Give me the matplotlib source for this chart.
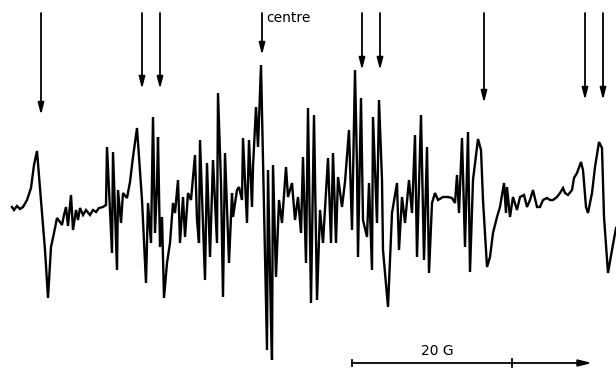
import matplotlib
matplotlib.use('Agg')
import matplotlib.pyplot as plt

# EPR trace (field in arbitrary units, intensity in arbitrary units)
field = [12, 14, 17, 20, 23, 27, 31, 34, 37, 41, 45, 48, 51, 54, 57, 60, 62, 64, 66, 68,
         71, 73, 76, 78, 80, 83, 86, 90, 93, 96, 99, 103, 106, 107, 112, 113, 117, 118, 121, 123,
         127, 130, 133, 137, 142, 146, 148, 151, 153, 155, 157, 158, 160, 162, 164, 167, 170, 173, 175, 178,
         180, 183, 185, 188, 191, 195, 197, 199, 200, 205, 207, 210, 213, 217, 218, 221, 223, 225, 229, 232,
         233, 237, 239, 242, 243, 247, 249, 252, 253, 256, 258, 261, 263, 265, 267, 268, 271, 272, 273, 276,
         279, 282, 286, 288, 292, 295, 298, 301, 303, 306, 308, 311, 314, 317, 320, 323, 328, 331, 333, 336,
         338, 342, 345, 349, 352, 355, 357, 358, 361, 363, 367, 369, 372, 373, 377, 379, 382, 383, 388, 392,
         397, 399, 402, 405, 409, 412, 415, 417, 421, 424, 427, 429, 432, 435, 438, 443, 448, 452, 455, 457,
         459, 462, 465, 468, 470, 473, 478, 481, 483, 487, 490, 493, 497, 500, 504, 506, 507, 510, 513, 517,
         520, 524, 527, 530, 533, 537, 540, 543, 547, 550, 553, 557, 560, 563, 565, 568, 572, 574, 577, 581,
         583, 586, 588, 592, 595, 599, 602, 604, 608, 612, 616]
intensity = [3, 0, 4, 1, 3, 10, 22, 45, 59, 10, -40, -88, -37, -23, -8, -12, -15, -5, 3, -16,
             15, -20, 0, -10, 2, -5, 0, -5, 0, -2, 2, 3, 5, 63, -43, 58, -60, 20, -13, 17,
             12, 28, 53, 82, 10, -73, 7, -33, 93, -23, 25, 73, -37, -7, -88, -53, -33, 7, -3, 30,
             -33, 13, -27, 17, 10, 55, -10, -33, 70, -70, 47, -47, 50, -33, 117, 27, -87, 57, -53, 17,
             -7, 20, 23, 10, 72, -13, 70, 3, 43, 103, 63, 145, 50, -47, -140, 40, -113, -150, 45, -67,
             10, -13, 43, 13, 27, -10, 13, -23, 53, -53, 102, -93, 95, -90, 0, -33, 52, -33, 57, -33,
             33, 3, 28, 80, -20, 140, 43, -47, 112, -10, -27, 27, -60, 93, -13, 110, 30, -40, -97, -3,
             27, -40, 13, -13, 30, -3, 75, -47, 95, -50, 63, -63, 7, 17, 10, 13, 13, 12, 7, 35,
             -3, 72, -37, 78, -62, 30, 71, 60, 10, -57, -47, -23, -7, 3, 27, -3, 23, -7, 13, 0,
             13, 15, 3, 10, 20, 3, 3, 10, 12, 10, 10, 13, 17, 22, 17, 15, 20, 32, 37, 48,
             40, 3, -3, 17, 43, 68, 62, -7, -63, -40, -18]

arrow_x = [41, 142, 160, 262, 362, 380, 484, 585, 603]
arrow_tip = [95, 121, 121, 155, 140, 140, 107, 110, 110]
arrow_top = 197

fig = plt.figure(figsize=(6.16, 3.68), dpi=100)
ax = fig.add_axes([0, 0, 1, 1])

ax.plot(field, intensity, color='black', lw=1.7, solid_joinstyle='miter')

for x, tip in zip(arrow_x, arrow_tip):
    ax.annotate('', xy=(x, tip), xytext=(x, arrow_top),
                arrowprops=dict(arrowstyle='-|>,head_length=0.7,head_width=0.18',
                                color='black', lw=1.3, shrinkA=0, shrinkB=0))

ax.text(266, 192, 'centre', fontsize=10, ha='left', va='center', family='DejaVu Sans')

# 20 G scale bar
ax.annotate('', xy=(592, -153), xytext=(352, -153),
            arrowprops=dict(arrowstyle='-|>,head_length=0.8,head_width=0.2',
                            color='black', lw=1.3, shrinkA=0, shrinkB=0))
ax.plot([352, 352], [-150, -156], color='black', lw=1.3)
ax.plot([512, 512], [-149, -157], color='black', lw=1.3)
ax.text(437, -141, '20 G', fontsize=10, ha='center', va='center')

ax.set_xlim(0, 616)
ax.set_ylim(-158, 210)
ax.axis('off')

fig.savefig('out.png', dpi=100)
